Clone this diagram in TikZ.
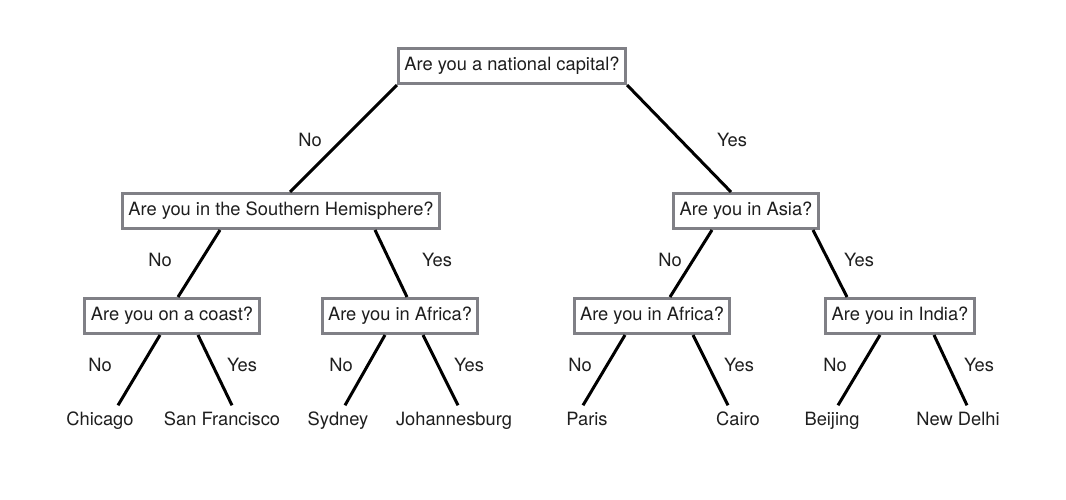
\documentclass[tikz,border=0pt]{standalone}
\usepackage{fontspec}
\setmainfont{TeX Gyre Heros}
\usetikzlibrary{calc}
\definecolor{qgray}{RGB}{128,128,134}
\definecolor{qtext}{RGB}{30,30,30}

\begin{document}
\begin{tikzpicture}[x=1pt, y=-1pt,
  qbox/.style={rectangle, draw=qgray, line width=3pt, fill=white,
               minimum height=35pt, inner xsep=6pt, text=qtext,
               font=\fontsize{18.3}{21}\selectfont},
  leaf/.style={text=qtext, font=\fontsize{18.3}{21}\selectfont,
               text height=13pt, text depth=4pt, inner xsep=2pt, inner ysep=7pt},
  ans/.style={text=qtext, font=\fontsize{18.3}{21}\selectfont},
  edge/.style={line width=3pt, black}
]
\useasboundingbox (0,0) rectangle (1066,500);

% Questions
\node[qbox] (capital) at (512,66)  {Are you a national capital?};
\node[qbox] (south)   at (281,211) {Are you in the Southern Hemisphere?};
\node[qbox] (asia)    at (746,211) {Are you in Asia?};
\node[qbox] (coast)   at (172,316) {Are you on a coast?};
\node[qbox] (africaA) at (400,316) {Are you in Africa?};
\node[qbox] (africaB) at (652,316) {Are you in Africa?};
\node[qbox] (india)   at (900,316) {Are you in India?};

% Cities
\node[leaf] (chicago) at (100,421) {Chicago};
\node[leaf] (sanfran) at (222,421) {San Francisco};
\node[leaf] (sydney)  at (338,421) {Sydney};
\node[leaf] (joburg)  at (454,421) {Johannesburg};
\node[leaf] (paris)   at (587,421) {Paris};
\node[leaf] (cairo)   at (738,421) {Cairo};
\node[leaf] (beijing) at (832,421) {Beijing};
\node[leaf] (delhi)   at (958,421) {New Delhi};

% Level 1
\draw[edge] (capital.south west) -- ($(south.north)+(9,0)$);
\draw[edge] (capital.south east) -- ($(asia.north)+(-15,0)$);
% Level 2
\draw[edge] ($(south.south)+(-61,0)$) -- ($(coast.north)+(6,0)$);
\draw[edge] ($(south.south)+(94,0)$)  -- ($(africaA.north)+(7,0)$);
\draw[edge] ($(asia.south)+(-34,0)$)  -- ($(africaB.north)+(18,0)$);
\draw[edge] ($(asia.south)+(67,0)$)   -- ($(india.north)+(-53,0)$);
% Level 3
\draw[edge] ($(coast.south)+(-12,0)$)   -- ($(chicago.north)+(18,0)$);
\draw[edge] ($(coast.south)+(26,0)$)    -- ($(sanfran.north)+(10,0)$);
\draw[edge] ($(africaA.south)+(-15,0)$) -- ($(sydney.north)+(7,0)$);
\draw[edge] ($(africaA.south)+(23,0)$)  -- ($(joburg.north)+(4,0)$);
\draw[edge] ($(africaB.south)+(-27,0)$) -- ($(paris.north)+(-4,0)$);
\draw[edge] ($(africaB.south)+(41,0)$)  -- ($(cairo.north)+(-10,0)$);
\draw[edge] ($(india.south)+(-20,0)$)   -- ($(beijing.north)+(6,0)$);
\draw[edge] ($(india.south)+(34,0)$)    -- ($(delhi.north)+(9,0)$);

% Answers
\node[ans] (n1) at (310,140) {No};
\node[ans] (y1) at (732,140) {Yes};
\node[ans] (n2) at (160,260) {No};
\node[ans] (y2) at (437,260) {Yes};
\node[ans] (n3) at (670,260) {No};
\node[ans] (y3) at (859,260) {Yes};
\node[ans] (n4) at (100,365) {No};
\node[ans] (y4) at (242,365) {Yes};
\node[ans] (n5) at (341,365) {No};
\node[ans] (y5) at (469,365) {Yes};
\node[ans] (n6) at (580,365) {No};
\node[ans] (y6) at (739,365) {Yes};
\node[ans] (n7) at (835,365) {No};
\node[ans] (y7) at (979,365) {Yes};
\end{tikzpicture}
\end{document}
